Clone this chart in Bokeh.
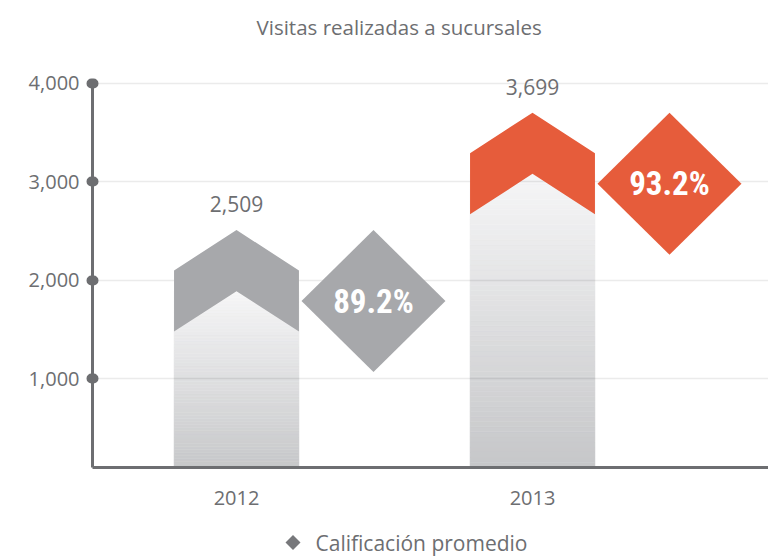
import numpy as np
from bokeh.plotting import figure
from bokeh.layouts import column
from bokeh.models import (LinearAxis, FixedTicker, Range1d, Grid, NumeralTickFormatter)
from bokeh.core.properties import value
from bokeh.embed import file_html
from bokeh.resources import INLINE

# ---------------- data ----------------
years = ["2012", "2013"]
visits = [2509, 3699]
ratings = [89.2, 93.2]
accent = ["#a7a8ab", "#e65c3b"]
y_ticks = [1000, 2000, 3000, 4000]
title_text = "Visitas realizadas a sucursales"
legend_text = "Calificación promedio"

# ---------------- style ----------------
AXIS = "#6d6e71"
TEXT = "#6d6e71"
FONT = "Open Sans"
PCT_FONT = "Roboto Condensed, Liberation Sans Narrow, DejaVu Sans Condensed, Roboto, sans-serif"

W = 768
FRAME_LEFT = 92
# frame: page x 92..W  (2012 at page 236, 2013 at 532)
X_START = 1 - 144 / 296
X_END = X_START + (W - FRAME_LEFT) / 296
Y_START, Y_END = 100, 4320

BAR_HALF = 0.211
NOTCH = 410
BAND = 620
DIA_DX = 0.4628
DIA_HW = 0.2432
DIA_HH = 720
LABEL_GAP = 260
N_STRIPS = 60
GRAD_TOP = np.array([246, 246, 247])
GRAD_BOT = np.array([196, 197, 199])

p = figure(width=W, height=528, output_backend="svg", toolbar_location=None,
           x_range=Range1d(X_START, X_END), y_range=Range1d(Y_START, Y_END),
           x_axis_type=None, y_axis_type=None,
           min_border_left=FRAME_LEFT, min_border_right=0, min_border_top=45,
           min_border_bottom=61)
p.outline_line_color = None
p.background_fill_color = "white"
p.border_fill_color = "white"

# title
p.title.text = title_text
p.title.align = "left"
p.title.offset = 164
p.title.text_font = FONT
p.title.text_font_size = "20.5px"
p.title.text_font_style = "normal"
p.title.text_color = TEXT
p.title.standoff = 21

# grid
grid = Grid(dimension=1, ticker=FixedTicker(ticks=y_ticks),
            grid_line_color="black", grid_line_alpha=0.08, grid_line_width=1.5)
p.add_layout(grid)

# axes (tick marks drawn as round dots)
yaxis = LinearAxis(ticker=FixedTicker(ticks=y_ticks),
                   bounds=(Y_START, max(y_ticks)),
                   formatter=NumeralTickFormatter(format="0,0"),
                   axis_line_color=AXIS, axis_line_width=3,
                   major_tick_line_color=AXIS, major_tick_line_width=10,
                   major_tick_line_cap="round",
                   major_tick_in=1, major_tick_out=1,
                   minor_tick_line_color=None, minor_tick_out=0, minor_tick_in=0,
                   major_label_standoff=12,
                   major_label_text_font=FONT, major_label_text_font_size="20px",
                   major_label_text_color=TEXT)
p.add_layout(yaxis, "left")

xaxis = LinearAxis(ticker=FixedTicker(ticks=[i + 1 for i in range(len(years))]),
                   major_label_overrides={i + 1: y for i, y in enumerate(years)},
                   axis_line_color=AXIS, axis_line_width=3,
                   major_tick_line_color=None, minor_tick_line_color=None,
                   major_tick_out=0, major_tick_in=0, minor_tick_out=0,
                   major_label_standoff=23,
                   major_label_text_font=FONT, major_label_text_font_size="20px",
                   major_label_text_color=TEXT)
p.add_layout(xaxis, "below")

# bars: gradient body + chevron band
for i, v in enumerate(visits):
    xc = i + 1
    g_top = v - BAND
    edges = np.linspace(0, g_top, N_STRIPS + 1)
    fr = (edges[:-1] + edges[1:]) / 2 / g_top
    cols = ["#%02x%02x%02x" % tuple(int(round(c)) for c in (GRAD_BOT + (GRAD_TOP - GRAD_BOT) * f)) for f in fr]
    p.quad(left=[xc - BAR_HALF] * N_STRIPS, right=[xc + BAR_HALF] * N_STRIPS,
           bottom=list(edges[:-1]), top=list(edges[1:]), fill_color=cols, line_color=cols,
           line_width=0.5, level="image")

band_xs, band_ys, dia_xs, dia_ys = [], [], [], []
for i, v in enumerate(visits):
    xc = i + 1
    L, R = xc - BAR_HALF, xc + BAR_HALF
    band_xs.append([L, xc, R, R, xc, L])
    band_ys.append([v - NOTCH, v, v - NOTCH, v - NOTCH - BAND, v - BAND, v - NOTCH - BAND])
    cx = xc + DIA_DX
    dia_xs.append([cx - DIA_HW, cx, cx + DIA_HW, cx])
    dia_ys.append([v - DIA_HH, v, v - DIA_HH, v - 2 * DIA_HH])

p.patches(band_xs, band_ys, fill_color=accent, line_color=None)
p.patches(dia_xs, dia_ys, fill_color=accent, line_color=None)

# percentage text
p.text(x=[i + 1 + DIA_DX for i in range(len(ratings))],
       y=[v - DIA_HH for v in visits],
       text=[f"{r:.1f}%" for r in ratings],
       text_color="white", text_font=value(PCT_FONT), text_font_style="bold",
       text_font_size="33px", text_align="center", text_baseline="middle")

# value labels
p.text(x=[i + 1 for i in range(len(visits))],
       y=[v + LABEL_GAP for v in visits],
       text=[f"{v:,}" for v in visits],
       text_color=TEXT, text_font=value(FONT), text_font_size="21px",
       text_align="center", text_baseline="middle")

# legend row (separate strip below the chart; its frame is aligned with the
# main frame, so the x range is expressed in page pixels FRAME_LEFT..W)
leg = figure(width=W, height=28, output_backend="svg", toolbar_location=None,
             x_range=Range1d(FRAME_LEFT, W), y_range=Range1d(0, 28),
             x_axis_type=None, y_axis_type=None,
             min_border_left=FRAME_LEFT, min_border_right=0, min_border_top=0,
             min_border_bottom=0)
leg.outline_line_color = None
leg.grid.visible = False
leg.scatter(x=[292.5], y=[14], marker="square", angle=np.pi / 4, size=10.6,
            color="#77787b", line_color=None)
leg.text(x=[315], y=[14], text=[legend_text], text_color=TEXT,
         text_font=value(FONT), text_font_size="21px",
         text_align="left", text_baseline="middle")

open("out.html", "w").write(file_html(column(p, leg, spacing=0), INLINE))
